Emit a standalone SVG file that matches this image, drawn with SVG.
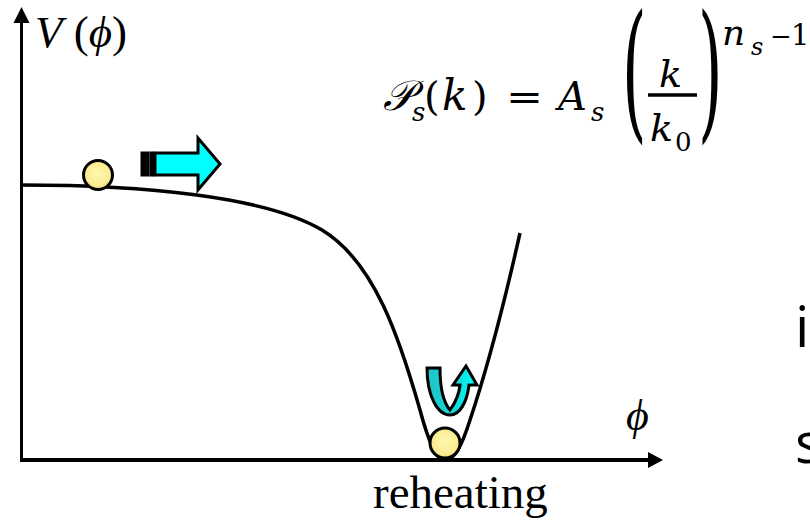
<svg xmlns="http://www.w3.org/2000/svg" width="810" height="523" viewBox="0 0 810 523">
<style>
.ser{font-family:"Liberation Serif","DejaVu Serif",serif;fill:#000}
.it{font-style:italic}
.math{font-family:"DejaVu Serif","Liberation Serif",serif;fill:#000}
.scr{font-family:"DejaVu Sans","Noto Sans","DejaVu Serif",serif;fill:#000}
.sans{font-family:"Open Sans","Noto Sans","DejaVu Sans",sans-serif;fill:#000}
.ax{stroke:#000;fill:none}
.ball{fill:url(#ballg);stroke:#000;stroke-width:3}
.blk{stroke:#000;stroke-width:3;stroke-linejoin:miter}
</style>
<defs>
<radialGradient id="ballg" cx="0.5" cy="0.45" r="0.6">
<stop offset="0" stop-color="#FFF8B0"/>
<stop offset="0.7" stop-color="#FBEC90"/>
<stop offset="1" stop-color="#E9D466"/>
</radialGradient>
<linearGradient id="ug" x1="0" y1="0" x2="1" y2="0">
<stop offset="0" stop-color="#22C4C4"/>
<stop offset="0.55" stop-color="#11D8D8"/>
<stop offset="1" stop-color="#00FFFF"/>
</linearGradient>
</defs>

<g id="axes">
<line class="ax" x1="21.5" y1="461" x2="21.5" y2="20" stroke-width="3"/>
<polygon points="21.5,7 13.5,23 29.5,23" fill="#000"/>
<line class="ax" x1="20" y1="460" x2="650" y2="460" stroke-width="4"/>
<polygon points="663,460 648,452 648,468" fill="#000"/>
</g>

<g id="potential">
<path class="ax" stroke-width="3.5" d="M 21 185 C 140 185 265 196 322 230 C 375 262 400 340 420 410 C 432 455 440 460 445 460 C 455 460 462 445 470 420 C 485 375 505 300 520 233"/>
</g>

<g id="ball-top">
<circle class="ball" cx="98" cy="175" r="14.5"/>
</g>
<g id="ball-bottom">
<circle class="ball" cx="445" cy="443" r="15"/>
</g>

<g id="arrow-right">
<rect class="blk" x="142" y="153" width="6" height="22" fill="#000"/>
<rect class="blk" x="151" y="153" width="2" height="22" fill="#00FFFF"/>
<polygon class="blk" points="155,153 198,153 198,138 220,164 198,190 198,175 155,175" fill="#00FFFF"/>
</g>

<g id="arrow-uturn">
<path class="blk" fill="url(#ug)" d="M 427 368 L 440 368 C 440 388 444 403 450 410 C 455 403 459 395 460 385 L 453 385 L 466 366 L 477 385 L 469 385 C 467 402 460 415 450 415 C 437 415 427 395 427 368 Z"/>
</g>

<g id="label-v">
<text class="ser" x="35" y="47" font-size="45"><tspan class="it">V</tspan> (<tspan class="it">ϕ</tspan>)</text>
</g>
<g id="label-phi">
<text class="ser it" x="626" y="430" font-size="44">ϕ</text>
</g>
<g id="label-reheating">
<text class="ser" x="373" y="508" font-size="47">reheating</text>
</g>

<g id="formula">
<text class="scr it" x="383" y="110" font-size="42">𝒫</text>
<text class="math it" x="412" y="121" font-size="26">s</text>
<text class="math" x="424" y="110" font-size="40">(</text>
<text class="math it" x="442" y="110" font-size="42">k</text>
<text class="math" x="472" y="110" font-size="40">)</text>
<text class="math" x="506" y="110" font-size="38" textLength="37" lengthAdjust="spacingAndGlyphs">=</text>
<text class="math it" x="558" y="110" font-size="40">A</text>
<text class="math it" x="591" y="121" font-size="26">s</text>
<text class="math" transform="translate(622,122) scale(0.42,1)" font-size="150">(</text>
<text class="math" transform="translate(698,122) scale(0.42,1)" font-size="150">)</text>
<line x1="648" y1="95" x2="697" y2="95" stroke="#000" stroke-width="3.5"/>
<text class="math it" x="659" y="87" font-size="38">k</text>
<text class="math it" x="650" y="141" font-size="38">k</text>
<text class="math" x="675" y="151" font-size="26">0</text>
<text class="math it" x="722" y="45" font-size="36">n</text>
<text class="math it" x="751" y="55" font-size="24">s</text>
<text class="math" x="770" y="45" font-size="26">−</text>
<text class="math" x="791" y="45" font-size="29">1</text>
</g>

<g id="cut-text">
<text class="sans" x="795" y="347" font-size="57">i</text>
<text class="sans" x="795" y="463" font-size="57">s</text>
</g>
</svg>
